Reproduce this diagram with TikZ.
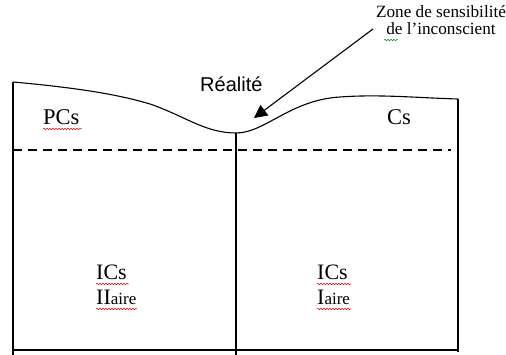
\documentclass[tikz,border=0pt]{standalone}
\usepackage{fontspec}
\setmainfont{Liberation Serif}
\newfontfamily\sansf{Liberation Sans}
\usetikzlibrary{arrows.meta,decorations.pathmorphing}
\begin{document}
\begin{tikzpicture}[x=1pt,y=-1pt,
  wall/.style={line width=2.1pt},
  curve/.style={line width=1.1pt},
  dashline/.style={line width=2pt,dash pattern=on 9pt off 6pt},
  lbl/.style={inner sep=0pt,anchor=base west},
  spell/.style={red!85!black,line width=0.5pt,decorate,decoration={snake,segment length=3pt,amplitude=0.7pt}},
  gspell/.style={green!55!black,line width=0.5pt,decorate,decoration={snake,segment length=3pt,amplitude=0.7pt}},
  pointer/.style={line width=1.1pt,-{Triangle[length=13pt,width=13pt]}}]
\useasboundingbox (0,0) rectangle (506,355);
% frame
\coordinate (tl) at (13,82);
\coordinate (tm) at (236,133);
\coordinate (tr) at (458,99);
\coordinate (bl) at (13,355);
\coordinate (bm) at (236,355);
\coordinate (br) at (458,352);
\draw[curve] (tl) .. controls (80,88) and (120,95) .. (150,104)
  .. controls (185,116) and (205,133) .. (tm)
  .. controls (265,133) and (290,100) .. (340,97)
  .. controls (380,94) and (420,98) .. (tr);
\draw[wall] (tl) -- (bl);
\draw[wall] (tm) -- (bm);
\draw[wall] (tr) -- (br);
\draw[wall] (13,350) -- (458,350);
\draw[dashline] (13,150) -- (451,150);
% texts
\node[lbl,font=\sansf\fontsize{20}{20}\selectfont] (real) at (200,92) {Réalité};
\node[lbl,font=\fontsize{22.5}{22.5}\selectfont] (pcs) at (43,125) {PCs};
\node[lbl,font=\fontsize{22.5}{22.5}\selectfont] (cs) at (387,125) {Cs};
\node[lbl,font=\fontsize{22}{22}\selectfont] (ics2) at (96,280) {ICs};
\node[lbl,font=\fontsize{22}{22}\selectfont] (aire2) at (96,305) {II{\fontsize{17}{17}\selectfont aire}};
\node[lbl,font=\fontsize{22}{22}\selectfont] (ics1) at (317,280) {ICs};
\node[lbl,font=\fontsize{22}{22}\selectfont] (aire1) at (317,305) {I{\fontsize{17}{17}\selectfont aire}};
\node[inner sep=0pt,align=center,font=\fontsize{17.2}{17}\selectfont,anchor=north] (zone) at (441,5)
  {Zone de sensibilité\\de l’inconscient};
% spell-check marks
\draw[spell] (43,129) -- (82,129);
\draw[spell] (96,284) -- (129,284);
\draw[spell] (96,309) -- (137,309);
\draw[spell] (317,284) -- (351,284);
\draw[spell] (317,309) -- (351,309);
\draw[gspell] (384,40) -- (398,40);
% arrow
\coordinate (from) at (373,29);
\coordinate (tip) at (254,118);
\draw[pointer] (from) -- (tip);
\end{tikzpicture}
\end{document}
